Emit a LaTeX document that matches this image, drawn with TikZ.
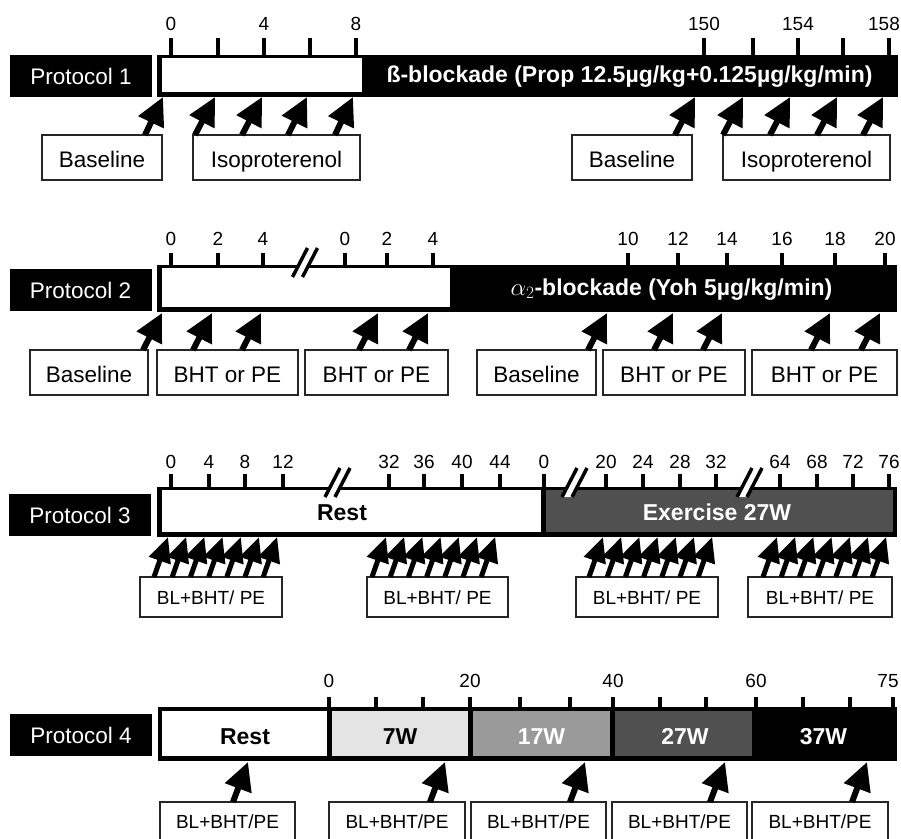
\documentclass[tikz,border=0pt]{standalone}
\usepackage{fontspec}
\setmainfont{Liberation Sans}
\usetikzlibrary{arrows.meta}
\definecolor{gA}{HTML}{E4E4E4}
\definecolor{gB}{HTML}{9A9A9A}
\definecolor{gC}{HTML}{505050}
\newcommand\brkmark[2]{%
  \fill[white] ({#1-12.5},{#2+14.5}) -- ({#1-2.5},{#2+14.5}) -- ({#1+12.5},{#2-14.5}) -- ({#1+2.5},{#2-14.5}) -- cycle;
  \draw[line width=3.5pt] ({#1-12.5},{#2+14.5}) -- ({#1+2.5},{#2-14.5});
  \draw[line width=3.5pt] ({#1-2.5},{#2+14.5}) -- ({#1+12.5},{#2-14.5});
}
\begin{document}
\begin{tikzpicture}[x=1pt,y=-1pt,
  num/.style={inner sep=0pt, font=\fontsize{19}{20}\selectfont},
  plabel/.style={fill=black, text=white, inner sep=0pt, minimum width=142pt, minimum height=42pt, text height=17pt, text depth=0pt, font=\fontsize{22.5}{24}\selectfont},
  bartext/.style={inner sep=0pt, anchor=base, font=\bfseries\fontsize{23}{25}\selectfont},
  lbox/.style={draw=black!85, line width=1.3pt, fill=white, inner sep=0pt, text depth=0pt, text height=19pt, minimum height=45pt, font=\fontsize{22.5}{24}\selectfont},
  sbox/.style={draw=black!85, line width=1.3pt, fill=white, inner sep=0pt, text depth=0pt, text height=14pt, minimum height=40pt, font=\fontsize{19}{21}\selectfont},
  tickmark/.style={line width=4.5pt},
  arrbig/.style={line width=6pt, -{Triangle[length=28pt,width=27pt]}},
  arrsmall/.style={line width=5pt, -{Triangle[length=25pt,width=22pt]}},
]
\useasboundingbox (0,0) rectangle (901,838);
\clip (0,0) rectangle (901,838);

%%%%%%%%%%%%%%%% Protocol 1
\fill (157,55) rectangle (898,97);
\fill[white] (162,58) rectangle (362,92);
\foreach \x in {171,218,264,310,356,704,753,798,843,889}
  \draw[tickmark] (\x,38) -- (\x,56);
\foreach \x/\t in {171/0,264/4,356/8,704/150,798/154}
  \node[num] (p1n\x) at (\x,24) {\t};
\node[num] (p1n889) at (884,24) {158};
\node[plabel] (p1) at (81,76) {Protocol 1};
\node[bartext,text=white] (p1bar) at (629.5,82) {ß-blockade (Prop 12.5µg/kg+0.125µg/kg/min)};
\node[lbox, minimum width=120pt] (p1bl) at (102,157.5) {Baseline};
\node[lbox, minimum width=167pt] (p1iso) at (276.5,157.5) {Isoproterenol};
\node[lbox, minimum width=120pt] (p1blb) at (632,157.5) {Baseline};
\node[lbox, minimum width=167pt] (p1isob) at (806.5,157.5) {Isoproterenol};
\foreach \t/\b [count=\i] in {163/145,215/195,262/242,307/288,353/335,695/675,743/723,790/770,837/817,883/863}{
  \coordinate (p1t\i) at (\t,97);
  \coordinate (p1b\i) at (\b,135);
  \draw[arrbig] (p1b\i) -- (p1t\i);
}

%%%%%%%%%%%%%%%% Protocol 2
\fill (157,265) rectangle (897,312);
\fill[white] (162,268) rectangle (450,307);
\foreach \x in {171,218,263,345,387,433,628,678,727,782,835,885}
  \draw[tickmark] (\x,253) -- (\x,266);
\foreach \x/\t in {171/0,218/2,263/4,345/0,387/2,433/4,628/10,678/12,727/14,782/16,835/18,885/20}
  \node[num] (p2n\x) at (\x,239) {\t};
\brkmark{305}{262.5}
\node[plabel] (p2) at (80.5,289.5) {Protocol 2};
\node[bartext,text=white] (p2bar) at (671.5,295) {$\alpha_2$-blockade (Yoh 5µg/kg/min)};
\node[lbox, minimum width=118pt] (p2bl) at (89,372.5) {Baseline};
\node[lbox, minimum width=141pt] (p2b1) at (227.5,372.5) {BHT or PE};
\node[lbox, minimum width=143pt] (p2b2) at (376.5,372.5) {BHT or PE};
\node[lbox, minimum width=119pt] (p2blb) at (536.5,372.5) {Baseline};
\node[lbox, minimum width=142pt] (p2b3) at (674,372.5) {BHT or PE};
\node[lbox, minimum width=145pt] (p2b4) at (824.5,372.5) {BHT or PE};
\foreach \t [count=\i] in {162,212,261,378,428,607,673,722,830,880}{
  \coordinate (p2t\i) at (\t,313);
  \coordinate (p2b\i) at ({\t-19},350);
  \draw[arrbig] (p2b\i) -- (p2t\i);
}

%%%%%%%%%%%%%%%% Protocol 3
\fill (157,487) rectangle (897,537);
\fill[white] (162,490) rectangle (541,532);
\fill[gC] (546,490) rectangle (893,532);
\foreach \x in {171,209,245,283,389,424,462,500,544,606,643,680,716,780,817,853,889}
  \draw[tickmark] (\x,474) -- (\x,488);
\foreach \x/\t in {171/0,209/4,245/8,283/12,389/32,424/36,462/40,500/44,544/0,606/20,643/24,680/28,716/32,780/64,817/68,853/72,889/76}
  \node[num] (p3n\x) at (\x,462) {\t};
\brkmark{337.5}{482.5}
\brkmark{574.5}{482.5}
\brkmark{749.5}{482.5}
\node[plabel] (p3) at (80,514.5) {Protocol 3};
\node[bartext] (p3rest) at (342,520) {Rest};
\node[bartext,text=white] (p3ex) at (717,520) {Exercise 27W};
\node[sbox, minimum width=142pt] (p3b1) at (211,597) {BL+BHT/ PE};
\node[sbox, minimum width=141pt] (p3b2) at (437.5,597) {BL+BHT/ PE};
\node[sbox, minimum width=142pt] (p3b3) at (647,597) {BL+BHT/ PE};
\node[sbox, minimum width=144pt] (p3b4) at (820,597) {BL+BHT/ PE};
\foreach \s [count=\g] in {168,386,603,777}{
  \foreach \k in {0,...,6}{
    \coordinate (p3t\g\k) at ({\s+18.2*\k},537);
    \coordinate (p3b\g\k) at ({\s+18.2*\k-14},577);
    \draw[arrsmall] (p3b\g\k) -- (p3t\g\k);
  }
}

%%%%%%%%%%%%%%%% Protocol 4
\fill (158,707) rectangle (897,761);
\fill[white] (162,711) rectangle (327,756);
\fill[gA] (332,711) rectangle (468,756);
\fill[gB] (473,711) rectangle (610,756);
\fill[gC] (615,711) rectangle (752,756);
\foreach \x in {329,376,423,470,520,570,613,660,706,756,803,850,893}
  \draw[tickmark] (\x,697) -- (\x,708);
\foreach \x/\t in {329/0,470/20,613/40,756/60}
  \node[num] (p4n\x) at (\x,681) {\t};
\node[num] (p4n893) at (888,681) {75};
\node[plabel] (p4) at (81,735) {Protocol 4};
\node[bartext] (p4rest) at (245,744) {Rest};
\node[bartext] (p4w7) at (400,744) {7W};
\node[bartext,text=white] (p4w17) at (541.5,744) {17W};
\node[bartext,text=white] (p4w27) at (685,744) {27W};
\node[bartext,text=white] (p4w37) at (823.5,744) {37W};
\node[sbox, text height=12pt, minimum width=135pt] (p4b1) at (227.5,822) {BL+BHT/PE};
\node[sbox, text height=12pt, minimum width=136pt] (p4b2) at (397,822) {BL+BHT/PE};
\node[sbox, text height=12pt, minimum width=135pt] (p4b3) at (538.5,822) {BL+BHT/PE};
\node[sbox, text height=12pt, minimum width=135pt] (p4b4) at (679.5,822) {BL+BHT/PE};
\node[sbox, text height=12pt, minimum width=136pt] (p4b5) at (820,822) {BL+BHT/PE};
\foreach \t/\b [count=\i] in {248/233,445/430,585/570,725/710,867/852}{
  \coordinate (p4t\i) at (\t,762);
  \coordinate (p4b\i) at (\b,802);
  \draw[arrbig] (p4b\i) -- (p4t\i);
}
\end{tikzpicture}
\end{document}
